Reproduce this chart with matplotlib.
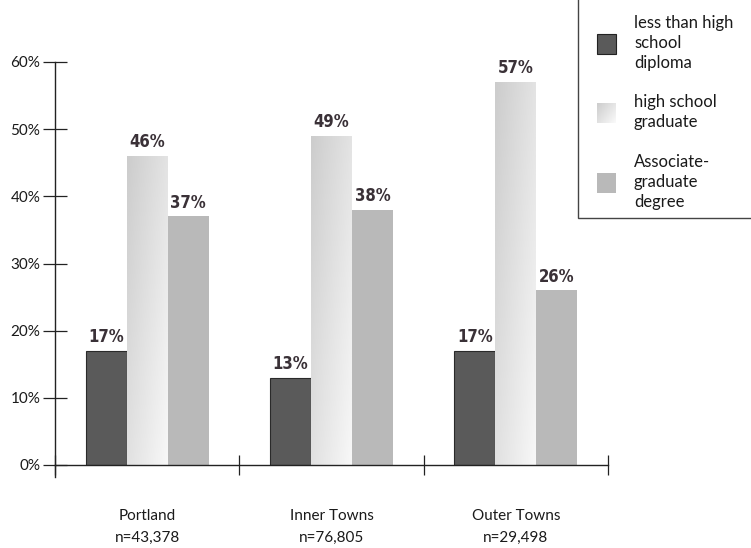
import numpy as np
import matplotlib
matplotlib.use("Agg")
import matplotlib.pyplot as plt
from matplotlib.patches import Rectangle

# Data
groups = ["Portland\nn=43,378", "Inner Towns\nn=76,805", "Outer Towns\nn=29,498"]
series_names = ["less than high\nschool\ndiploma", "high school\ngraduate", "Associate-\ngraduate\ndegree"]
less_than_hs = [17, 13, 17]
hs_graduate = [46, 49, 57]
assoc_grad = [37, 38, 26]
y_ticks = [0, 10, 20, 30, 40, 50, 60]

DARK = "#5a5a5a"
GRAY = "#b9b9b9"
TXT = "#1a1a1a"
LBL = "#3a3137"
BASE_FONT = "Lato"

fig = plt.figure(figsize=(7.51, 5.48), dpi=100)
ax = fig.add_axes([55 / 751, 83 / 548, (608 - 55) / 751, (465 - 62) / 548])

x = np.arange(len(groups))
w = 0.222

# diagonal gradient for the middle series: darker top-left, lighter bottom-right
gx = np.linspace(0, 1, 64)
gy = np.linspace(0, 1, 64)
GX, GY = np.meshgrid(gx, gy)
grad = np.clip(0.80 + 0.09 * GX + 0.08 * GY, 0, 1)


def gradient_bar(axis, xc, h):
    r = Rectangle((xc - w / 2, 0), w, h, facecolor="none", edgecolor="none")
    axis.add_patch(r)
    im = axis.imshow(grad, cmap="gray", vmin=0, vmax=1, origin="upper",
                     extent=[xc - w / 2, xc + w / 2, 0, h], aspect="auto",
                     interpolation="bilinear", zorder=2)
    im.set_clip_path(r)


ax.bar(x - w, less_than_hs, w, color=DARK, edgecolor="#2a2a2a", linewidth=0.8, zorder=2)
for xi, v in zip(x, hs_graduate):
    gradient_bar(ax, xi, v)
ax.bar(x + w, assoc_grad, w, color=GRAY, edgecolor="none", zorder=2)

for offs, vals in [(-w, less_than_hs), (0, hs_graduate), (w, assoc_grad)]:
    for xi, v in zip(x, vals):
        ax.text(xi + offs, v + 0.7, f"{v}%", ha="center", va="bottom",
                fontsize=12, fontweight="bold", fontstretch="condensed",
                color=LBL, family="DejaVu Sans")

ax.set_xlim(-0.5, 2.5)
ax.set_ylim(0, 60)

for s in ["top", "right"]:
    ax.spines[s].set_visible(False)
for s in ["bottom", "left"]:
    ax.spines[s].set_color("#222222")
    ax.spines[s].set_linewidth(1.0)
ax.plot([-0.5, -0.5], [0, -1.8], color="#222222", lw=1.0, clip_on=False)

ax.set_yticks(y_ticks)
ax.set_yticklabels([f"{t}%" for t in y_ticks], fontsize=11, color=TXT, family=BASE_FONT)
ax.tick_params(axis="y", direction="inout", length=17, width=0.9, color="#222222", pad=2)

ax.set_xticks([-0.5, 0.5, 1.5, 2.5])
ax.set_xticklabels([])
ax.tick_params(axis="x", direction="inout", length=15, width=0.9, color="#222222")
ax.set_xticks(x, minor=True)
ax.set_xticklabels(groups, minor=True, fontsize=11, color=TXT, family=BASE_FONT, linespacing=1.65)
ax.tick_params(axis="x", which="minor", length=0, pad=32)

# legend box
H = 548.0
fig.patches.append(Rectangle((578 / 751, 1 - 218 / H), 0.5, 0.5, transform=fig.transFigure,
                             facecolor="white", edgecolor="#444444", linewidth=1.0, zorder=5))
entries = [(34, 18, 0), (103, 97, 1), (173, 157, 2)]
for py, ty, k in entries:
    if k == 0:
        fig.patches.append(Rectangle((597 / 751, 1 - (py + 20) / H), 19 / 751, 20 / H,
                                     transform=fig.transFigure, facecolor=DARK,
                                     edgecolor="#222222", linewidth=0.8, zorder=6))
    elif k == 1:
        lax = fig.add_axes([597 / 751, 1 - (py + 20) / H, 19 / 751, 20 / H], zorder=6)
        lg = 0.80 + 0.10 * GX + 0.08 * GY
        lax.imshow(lg, cmap="gray", vmin=0, vmax=1, aspect="auto", interpolation="bilinear")
        lax.axis("off")
    else:
        fig.patches.append(Rectangle((597 / 751, 1 - (py + 20) / H), 19 / 751, 20 / H,
                                     transform=fig.transFigure, facecolor=GRAY,
                                     edgecolor="none", zorder=6))
    fig.text(634 / 751, 1 - (ty - 3) / H, series_names[k], ha="left", va="top",
             fontsize=12, color=TXT, family=BASE_FONT, linespacing=1.3, zorder=7)

fig.savefig("out.png", dpi=100)
